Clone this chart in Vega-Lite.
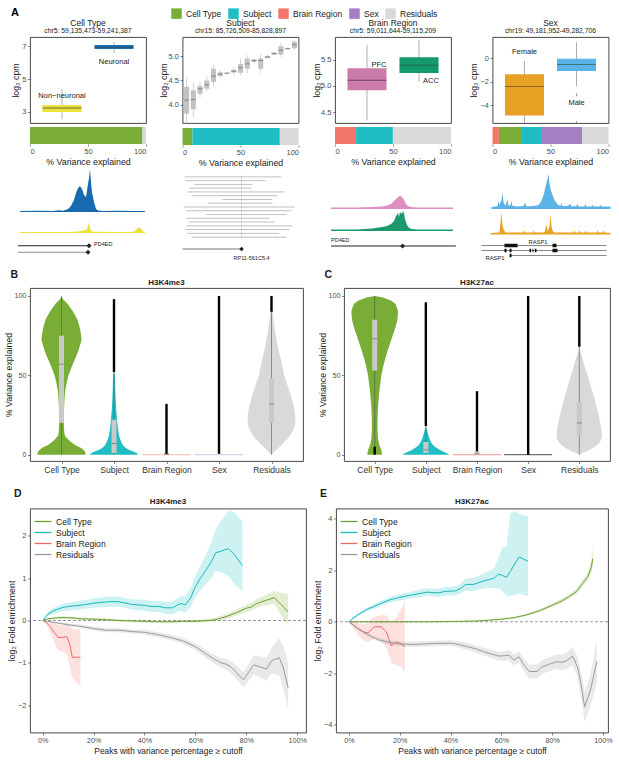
{
"$schema": "https://vega.github.io/schema/vega-lite/v6.json",
"padding": {"left": 3, "top": 8, "right": 0, "bottom": 0},
"config": {
 "font": "Liberation Sans",
 "view": {"stroke": "#333333", "strokeWidth": 0.9},
 "axis": {"grid": false, "domain": false, "ticks": true, "tickSize": 2.5, "tickColor": "#333333", "tickWidth": 0.6, "labelFontSize": 7.5, "labelColor": "#4d4d4d", "labelPadding": 1.5, "titleFontSize": 8.8, "titleFontWeight": "normal", "titleColor": "#1a1a1a", "titlePadding": 3},
 "title": {"fontSize": 8.5, "fontWeight": "normal", "color": "#1a1a1a", "subtitleFontSize": 6.8, "subtitleColor": "#1a1a1a", "subtitlePadding": 1, "offset": 2}
},
"datasets": {
 "vB": [
  {"cat":"Cell Type","v":100,"l":0,"r":0},{"cat":"Cell Type","v":98,"l":-4,"r":4},{"cat":"Cell Type","v":95,"l":-18,"r":18},{"cat":"Cell Type","v":90,"l":-35,"r":35},{"cat":"Cell Type","v":85,"l":-48,"r":48},{"cat":"Cell Type","v":80,"l":-55,"r":55},{"cat":"Cell Type","v":75,"l":-59,"r":59},{"cat":"Cell Type","v":72,"l":-60,"r":60},{"cat":"Cell Type","v":70,"l":-57,"r":57},{"cat":"Cell Type","v":65,"l":-50,"r":50},{"cat":"Cell Type","v":60,"l":-40,"r":40},{"cat":"Cell Type","v":55,"l":-30,"r":30},{"cat":"Cell Type","v":50,"l":-21,"r":21},{"cat":"Cell Type","v":45,"l":-15,"r":15},{"cat":"Cell Type","v":40,"l":-11,"r":11},{"cat":"Cell Type","v":35,"l":-9,"r":9},{"cat":"Cell Type","v":30,"l":-8,"r":8},{"cat":"Cell Type","v":25,"l":-7,"r":7},{"cat":"Cell Type","v":20,"l":-7,"r":7},{"cat":"Cell Type","v":15,"l":-8,"r":8},{"cat":"Cell Type","v":12,"l":-10,"r":10},{"cat":"Cell Type","v":10,"l":-18,"r":18},{"cat":"Cell Type","v":8,"l":-28,"r":28},{"cat":"Cell Type","v":6,"l":-42,"r":42},{"cat":"Cell Type","v":5,"l":-52,"r":52},{"cat":"Cell Type","v":4,"l":-60,"r":60},{"cat":"Cell Type","v":3,"l":-66,"r":66},{"cat":"Cell Type","v":2,"l":-70,"r":70},{"cat":"Cell Type","v":1,"l":-72,"r":72},{"cat":"Cell Type","v":0,"l":-72,"r":72},
  {"cat":"Subject","v":52,"l":0,"r":0},{"cat":"Subject","v":50,"l":-3,"r":3},{"cat":"Subject","v":45,"l":-3.5,"r":3.5},{"cat":"Subject","v":40,"l":-4,"r":4},{"cat":"Subject","v":35,"l":-5,"r":5},{"cat":"Subject","v":30,"l":-6,"r":6},{"cat":"Subject","v":25,"l":-8,"r":8},{"cat":"Subject","v":20,"l":-10,"r":10},{"cat":"Subject","v":15,"l":-13,"r":13},{"cat":"Subject","v":12,"l":-15,"r":15},{"cat":"Subject","v":10,"l":-18,"r":18},{"cat":"Subject","v":8,"l":-22,"r":22},{"cat":"Subject","v":6,"l":-27,"r":27},{"cat":"Subject","v":5,"l":-31,"r":31},{"cat":"Subject","v":4,"l":-37,"r":37},{"cat":"Subject","v":3,"l":-46,"r":46},{"cat":"Subject","v":2,"l":-58,"r":58},{"cat":"Subject","v":1,"l":-68,"r":68},{"cat":"Subject","v":0,"l":-72,"r":72},
  {"cat":"Residuals","v":100,"l":0,"r":0},{"cat":"Residuals","v":90,"l":-3,"r":3},{"cat":"Residuals","v":85,"l":-6,"r":6},{"cat":"Residuals","v":80,"l":-9,"r":9},{"cat":"Residuals","v":75,"l":-13,"r":13},{"cat":"Residuals","v":70,"l":-17,"r":17},{"cat":"Residuals","v":65,"l":-22,"r":22},{"cat":"Residuals","v":60,"l":-28,"r":28},{"cat":"Residuals","v":55,"l":-33,"r":33},{"cat":"Residuals","v":50,"l":-38,"r":38},{"cat":"Residuals","v":45,"l":-46,"r":46},{"cat":"Residuals","v":40,"l":-54,"r":54},{"cat":"Residuals","v":35,"l":-61,"r":61},{"cat":"Residuals","v":30,"l":-67,"r":67},{"cat":"Residuals","v":25,"l":-71,"r":71},{"cat":"Residuals","v":22,"l":-72,"r":72},{"cat":"Residuals","v":18,"l":-70,"r":70},{"cat":"Residuals","v":15,"l":-64,"r":64},{"cat":"Residuals","v":12,"l":-56,"r":56},{"cat":"Residuals","v":10,"l":-48,"r":48},{"cat":"Residuals","v":8,"l":-38,"r":38},{"cat":"Residuals","v":6,"l":-29,"r":29},{"cat":"Residuals","v":4,"l":-20,"r":20},{"cat":"Residuals","v":2,"l":-9,"r":9},{"cat":"Residuals","v":0,"l":0,"r":0}
 ],
 "vC": [
  {"cat":"Cell Type","v":100,"l":0,"r":0},{"cat":"Cell Type","v":99,"l":-25,"r":25},{"cat":"Cell Type","v":97,"l":-50,"r":50},{"cat":"Cell Type","v":95,"l":-62,"r":62},{"cat":"Cell Type","v":92,"l":-68,"r":68},{"cat":"Cell Type","v":90,"l":-70,"r":70},{"cat":"Cell Type","v":85,"l":-68,"r":68},{"cat":"Cell Type","v":80,"l":-62,"r":62},{"cat":"Cell Type","v":75,"l":-54,"r":54},{"cat":"Cell Type","v":70,"l":-46,"r":46},{"cat":"Cell Type","v":65,"l":-38,"r":38},{"cat":"Cell Type","v":60,"l":-31,"r":31},{"cat":"Cell Type","v":55,"l":-25,"r":25},{"cat":"Cell Type","v":50,"l":-20,"r":20},{"cat":"Cell Type","v":45,"l":-17,"r":17},{"cat":"Cell Type","v":40,"l":-14,"r":14},{"cat":"Cell Type","v":35,"l":-12,"r":12},{"cat":"Cell Type","v":30,"l":-10,"r":10},{"cat":"Cell Type","v":25,"l":-9,"r":9},{"cat":"Cell Type","v":20,"l":-8.5,"r":8.5},{"cat":"Cell Type","v":15,"l":-8.5,"r":8.5},{"cat":"Cell Type","v":10,"l":-10,"r":10},{"cat":"Cell Type","v":6,"l":-14,"r":14},{"cat":"Cell Type","v":4,"l":-18,"r":18},{"cat":"Cell Type","v":2,"l":-21,"r":21},{"cat":"Cell Type","v":0,"l":-22,"r":22},
  {"cat":"Subject","v":18,"l":0,"r":0},{"cat":"Subject","v":15,"l":-4,"r":4},{"cat":"Subject","v":12,"l":-8,"r":8},{"cat":"Subject","v":10,"l":-11,"r":11},{"cat":"Subject","v":8,"l":-15,"r":15},{"cat":"Subject","v":6,"l":-22,"r":22},{"cat":"Subject","v":5,"l":-27,"r":27},{"cat":"Subject","v":4,"l":-34,"r":34},{"cat":"Subject","v":3,"l":-42,"r":42},{"cat":"Subject","v":2,"l":-52,"r":52},{"cat":"Subject","v":1,"l":-62,"r":62},{"cat":"Subject","v":0,"l":-70,"r":70},
  {"cat":"Residuals","v":68,"l":0,"r":0},{"cat":"Residuals","v":65,"l":-3,"r":3},{"cat":"Residuals","v":60,"l":-11,"r":11},{"cat":"Residuals","v":55,"l":-17,"r":17},{"cat":"Residuals","v":50,"l":-25,"r":25},{"cat":"Residuals","v":45,"l":-32,"r":32},{"cat":"Residuals","v":40,"l":-39,"r":39},{"cat":"Residuals","v":35,"l":-46,"r":46},{"cat":"Residuals","v":30,"l":-52,"r":52},{"cat":"Residuals","v":25,"l":-58,"r":58},{"cat":"Residuals","v":20,"l":-63,"r":63},{"cat":"Residuals","v":15,"l":-67,"r":67},{"cat":"Residuals","v":11,"l":-68,"r":68},{"cat":"Residuals","v":8,"l":-62,"r":62},{"cat":"Residuals","v":6,"l":-53,"r":53},{"cat":"Residuals","v":4,"l":-40,"r":40},{"cat":"Residuals","v":2,"l":-22,"r":22},{"cat":"Residuals","v":1,"l":-10,"r":10},{"cat":"Residuals","v":0,"l":0,"r":0}
 ],
 "bB": [
  {"cat":"Cell Type","lo":0,"hi":100,"q1":20,"q3":75,"med":57},
  {"cat":"Subject","lo":0,"hi":52,"q1":1,"q3":22,"med":7,"o1":52,"o2":98},
  {"cat":"Brain Region","q1":0,"q3":1,"med":0.3,"o1":0.5,"o2":32,"flat":0},
  {"cat":"Sex","o1":0.5,"o2":100,"flat":0},
  {"cat":"Residuals","lo":0,"hi":90,"q1":20,"q3":48,"med":32,"o1":90,"o2":100}
 ],
 "bC": [
  {"cat":"Cell Type","lo":0,"hi":100,"q1":53,"q3":85,"med":73,"o1":0,"o2":5},
  {"cat":"Subject","lo":0,"hi":18,"q1":1,"q3":8,"med":3,"o1":18,"o2":96},
  {"cat":"Brain Region","q1":0,"q3":2,"med":0.5,"o1":2,"o2":40,"flat":0},
  {"cat":"Sex","o1":0,"o2":100,"flat":0},
  {"cat":"Residuals","lo":0,"hi":68,"q1":12,"q3":33,"med":20,"o1":68,"o2":100}
 ],
 "dD": [
  {"s":"Cell Type","x":0,"y":0,"lo":0,"hi":0},{"s":"Cell Type","x":2,"y":0.04,"lo":0.02,"hi":0.06},{"s":"Cell Type","x":5,"y":0.06,"lo":0.03,"hi":0.09},{"s":"Cell Type","x":8,"y":0.07,"lo":0.04,"hi":0.1},{"s":"Cell Type","x":12,"y":0.06,"lo":0.03,"hi":0.09},{"s":"Cell Type","x":15,"y":0.04,"lo":0.01,"hi":0.07},{"s":"Cell Type","x":20,"y":0.03,"lo":0,"hi":0.06},{"s":"Cell Type","x":25,"y":0.02,"lo":-0.01,"hi":0.05},{"s":"Cell Type","x":30,"y":0,"lo":-0.03,"hi":0.03},{"s":"Cell Type","x":35,"y":-0.01,"lo":-0.04,"hi":0.02},{"s":"Cell Type","x":40,"y":-0.02,"lo":-0.05,"hi":0.01},{"s":"Cell Type","x":45,"y":-0.03,"lo":-0.06,"hi":0},{"s":"Cell Type","x":50,"y":-0.03,"lo":-0.06,"hi":0},{"s":"Cell Type","x":55,"y":-0.02,"lo":-0.05,"hi":0.01},{"s":"Cell Type","x":60,"y":-0.02,"lo":-0.05,"hi":0.02},{"s":"Cell Type","x":65,"y":0,"lo":-0.04,"hi":0.04},{"s":"Cell Type","x":68,"y":0.02,"lo":-0.03,"hi":0.07},{"s":"Cell Type","x":72,"y":0.09,"lo":0.03,"hi":0.15},{"s":"Cell Type","x":76,"y":0.18,"lo":0.11,"hi":0.26},{"s":"Cell Type","x":80,"y":0.29,"lo":0.2,"hi":0.38},{"s":"Cell Type","x":82,"y":0.32,"lo":0.23,"hi":0.42},{"s":"Cell Type","x":84,"y":0.4,"lo":0.3,"hi":0.5},{"s":"Cell Type","x":87,"y":0.46,"lo":0.35,"hi":0.58},{"s":"Cell Type","x":89.5,"y":0.51,"lo":0.38,"hi":0.65},{"s":"Cell Type","x":91,"y":0.54,"lo":0.4,"hi":0.7},{"s":"Cell Type","x":93,"y":0.42,"lo":0.2,"hi":0.66},{"s":"Cell Type","x":95,"y":0.3,"lo":0,"hi":0.64},{"s":"Cell Type","x":96.5,"y":0.2,"lo":-0.12,"hi":0.62},
  {"s":"Subject","x":0,"y":0,"lo":0,"hi":0},{"s":"Subject","x":2,"y":0.15,"lo":0.1,"hi":0.2},{"s":"Subject","x":4,"y":0.22,"lo":0.15,"hi":0.29},{"s":"Subject","x":6,"y":0.27,"lo":0.19,"hi":0.35},{"s":"Subject","x":8,"y":0.31,"lo":0.22,"hi":0.4},{"s":"Subject","x":10,"y":0.33,"lo":0.24,"hi":0.42},{"s":"Subject","x":13,"y":0.35,"lo":0.25,"hi":0.45},{"s":"Subject","x":16,"y":0.37,"lo":0.27,"hi":0.48},{"s":"Subject","x":20,"y":0.41,"lo":0.3,"hi":0.52},{"s":"Subject","x":25,"y":0.44,"lo":0.32,"hi":0.56},{"s":"Subject","x":29,"y":0.45,"lo":0.33,"hi":0.57},{"s":"Subject","x":32,"y":0.42,"lo":0.3,"hi":0.54},{"s":"Subject","x":35,"y":0.38,"lo":0.26,"hi":0.5},{"s":"Subject","x":40,"y":0.36,"lo":0.23,"hi":0.49},{"s":"Subject","x":43,"y":0.33,"lo":0.2,"hi":0.46},{"s":"Subject","x":46,"y":0.33,"lo":0.2,"hi":0.47},{"s":"Subject","x":48,"y":0.3,"lo":0.16,"hi":0.44},{"s":"Subject","x":51,"y":0.3,"lo":0.15,"hi":0.45},{"s":"Subject","x":53,"y":0.37,"lo":0.21,"hi":0.53},{"s":"Subject","x":54.5,"y":0.4,"lo":0.23,"hi":0.58},{"s":"Subject","x":56,"y":0.37,"lo":0.18,"hi":0.57},{"s":"Subject","x":58,"y":0.52,"lo":0.3,"hi":0.75},{"s":"Subject","x":60,"y":0.8,"lo":0.55,"hi":1.05},{"s":"Subject","x":62,"y":1.0,"lo":0.72,"hi":1.3},{"s":"Subject","x":64,"y":1.18,"lo":0.85,"hi":1.55},{"s":"Subject","x":66,"y":1.36,"lo":0.98,"hi":1.8},{"s":"Subject","x":68,"y":1.6,"lo":1.18,"hi":2.15},{"s":"Subject","x":70,"y":1.64,"lo":1.15,"hi":2.35},{"s":"Subject","x":73,"y":1.7,"lo":1.05,"hi":2.6},{"s":"Subject","x":75.5,"y":1.55,"lo":0.85,"hi":2.55},{"s":"Subject","x":78.5,"y":1.3,"lo":0.7,"hi":2.35},
  {"s":"Brain Region","x":0,"y":0,"lo":0,"hi":0},{"s":"Brain Region","x":1.5,"y":-0.05,"lo":-0.1,"hi":0},{"s":"Brain Region","x":3,"y":-0.15,"lo":-0.3,"hi":0},{"s":"Brain Region","x":4.5,"y":-0.28,"lo":-0.5,"hi":-0.05},{"s":"Brain Region","x":6,"y":-0.4,"lo":-0.7,"hi":-0.1},{"s":"Brain Region","x":8,"y":-0.4,"lo":-0.75,"hi":-0.1},{"s":"Brain Region","x":9.5,"y":-0.38,"lo":-0.8,"hi":-0.05},{"s":"Brain Region","x":10.8,"y":-0.6,"lo":-1.15,"hi":-0.15},{"s":"Brain Region","x":11.6,"y":-0.87,"lo":-1.35,"hi":-0.2},{"s":"Brain Region","x":13,"y":-0.87,"lo":-1.45,"hi":-0.2},{"s":"Brain Region","x":14.8,"y":-0.87,"lo":-1.55,"hi":-0.22},
  {"s":"Residuals","x":0,"y":0,"lo":0,"hi":0},{"s":"Residuals","x":5,"y":-0.05,"lo":-0.07,"hi":-0.03},{"s":"Residuals","x":10,"y":-0.1,"lo":-0.13,"hi":-0.07},{"s":"Residuals","x":15,"y":-0.14,"lo":-0.18,"hi":-0.1},{"s":"Residuals","x":20,"y":-0.19,"lo":-0.24,"hi":-0.14},{"s":"Residuals","x":25,"y":-0.23,"lo":-0.28,"hi":-0.18},{"s":"Residuals","x":30,"y":-0.23,"lo":-0.28,"hi":-0.18},{"s":"Residuals","x":35,"y":-0.26,"lo":-0.31,"hi":-0.21},{"s":"Residuals","x":40,"y":-0.28,"lo":-0.34,"hi":-0.22},{"s":"Residuals","x":45,"y":-0.33,"lo":-0.39,"hi":-0.27},{"s":"Residuals","x":50,"y":-0.4,"lo":-0.46,"hi":-0.33},{"s":"Residuals","x":55,"y":-0.48,"lo":-0.55,"hi":-0.41},{"s":"Residuals","x":60,"y":-0.62,"lo":-0.7,"hi":-0.54},{"s":"Residuals","x":64,"y":-0.78,"lo":-0.87,"hi":-0.69},{"s":"Residuals","x":67,"y":-0.9,"lo":-1.0,"hi":-0.8},{"s":"Residuals","x":70,"y":-1.0,"lo":-1.12,"hi":-0.88},{"s":"Residuals","x":72,"y":-1.03,"lo":-1.16,"hi":-0.9},{"s":"Residuals","x":74,"y":-1.1,"lo":-1.24,"hi":-0.96},{"s":"Residuals","x":76,"y":-1.22,"lo":-1.38,"hi":-1.06},{"s":"Residuals","x":78,"y":-1.35,"lo":-1.52,"hi":-1.18},{"s":"Residuals","x":79,"y":-1.4,"lo":-1.58,"hi":-1.22},{"s":"Residuals","x":81,"y":-1.22,"lo":-1.42,"hi":-1.02},{"s":"Residuals","x":83,"y":-1.05,"lo":-1.28,"hi":-0.82},{"s":"Residuals","x":85.5,"y":-1.1,"lo":-1.35,"hi":-0.85},{"s":"Residuals","x":88,"y":-1.15,"lo":-1.42,"hi":-0.88},{"s":"Residuals","x":90,"y":-0.95,"lo":-1.25,"hi":-0.65},{"s":"Residuals","x":93,"y":-0.88,"lo":-1.3,"hi":-0.42},{"s":"Residuals","x":94.5,"y":-1.1,"lo":-1.6,"hi":-0.6},{"s":"Residuals","x":96.5,"y":-1.6,"lo":-2.1,"hi":-1.0}
 ],
 "dE": [
  {"s":"Cell Type","x":0,"y":0,"lo":0,"hi":0},{"s":"Cell Type","x":10,"y":0,"lo":-0.02,"hi":0.02},{"s":"Cell Type","x":20,"y":0,"lo":-0.02,"hi":0.02},{"s":"Cell Type","x":30,"y":0,"lo":-0.02,"hi":0.02},{"s":"Cell Type","x":40,"y":0.01,"lo":-0.01,"hi":0.03},{"s":"Cell Type","x":45,"y":0.02,"lo":0,"hi":0.04},{"s":"Cell Type","x":50,"y":0.03,"lo":0.01,"hi":0.05},{"s":"Cell Type","x":55,"y":0.06,"lo":0.03,"hi":0.09},{"s":"Cell Type","x":60,"y":0.1,"lo":0.07,"hi":0.13},{"s":"Cell Type","x":65,"y":0.16,"lo":0.12,"hi":0.2},{"s":"Cell Type","x":70,"y":0.27,"lo":0.22,"hi":0.32},{"s":"Cell Type","x":75,"y":0.43,"lo":0.37,"hi":0.49},{"s":"Cell Type","x":80,"y":0.64,"lo":0.57,"hi":0.71},{"s":"Cell Type","x":84,"y":0.82,"lo":0.74,"hi":0.9},{"s":"Cell Type","x":87,"y":1.0,"lo":0.91,"hi":1.09},{"s":"Cell Type","x":89.5,"y":1.17,"lo":1.07,"hi":1.27},{"s":"Cell Type","x":92,"y":1.49,"lo":1.37,"hi":1.61},{"s":"Cell Type","x":94,"y":1.75,"lo":1.6,"hi":1.9},{"s":"Cell Type","x":95.4,"y":2.1,"lo":1.9,"hi":2.35},{"s":"Cell Type","x":96,"y":2.45,"lo":2.15,"hi":2.9},
  {"s":"Subject","x":0,"y":0,"lo":0,"hi":0},{"s":"Subject","x":2,"y":0.17,"lo":0.12,"hi":0.22},{"s":"Subject","x":4,"y":0.3,"lo":0.24,"hi":0.36},{"s":"Subject","x":6,"y":0.42,"lo":0.35,"hi":0.49},{"s":"Subject","x":7.5,"y":0.5,"lo":0.42,"hi":0.58},{"s":"Subject","x":10,"y":0.6,"lo":0.51,"hi":0.69},{"s":"Subject","x":12,"y":0.69,"lo":0.59,"hi":0.79},{"s":"Subject","x":16,"y":0.85,"lo":0.74,"hi":0.96},{"s":"Subject","x":20,"y":0.95,"lo":0.83,"hi":1.07},{"s":"Subject","x":24,"y":1.03,"lo":0.9,"hi":1.16},{"s":"Subject","x":28,"y":1.1,"lo":0.95,"hi":1.25},{"s":"Subject","x":31,"y":1.15,"lo":1.0,"hi":1.3},{"s":"Subject","x":35,"y":1.12,"lo":0.96,"hi":1.28},{"s":"Subject","x":38,"y":1.18,"lo":1.01,"hi":1.35},{"s":"Subject","x":42,"y":1.2,"lo":1.02,"hi":1.38},{"s":"Subject","x":44,"y":1.3,"lo":1.1,"hi":1.5},{"s":"Subject","x":46,"y":1.45,"lo":1.22,"hi":1.68},{"s":"Subject","x":49,"y":1.45,"lo":1.2,"hi":1.7},{"s":"Subject","x":52,"y":1.55,"lo":1.27,"hi":1.83},{"s":"Subject","x":55,"y":1.64,"lo":1.32,"hi":1.96},{"s":"Subject","x":57,"y":1.68,"lo":1.3,"hi":2.06},{"s":"Subject","x":59,"y":1.85,"lo":1.3,"hi":2.5},{"s":"Subject","x":60.5,"y":1.8,"lo":1.2,"hi":2.9},{"s":"Subject","x":62,"y":1.72,"lo":1.0,"hi":2.9},{"s":"Subject","x":63.5,"y":1.95,"lo":1.0,"hi":4.2},{"s":"Subject","x":65,"y":2.2,"lo":1.05,"hi":4.3},{"s":"Subject","x":67,"y":2.52,"lo":1.1,"hi":4.2},{"s":"Subject","x":68.5,"y":2.45,"lo":1.05,"hi":4.15},{"s":"Subject","x":70.5,"y":2.35,"lo":1.0,"hi":4.1},
  {"s":"Brain Region","x":0,"y":0,"lo":0,"hi":0},{"s":"Brain Region","x":2,"y":-0.15,"lo":-0.3,"hi":0},{"s":"Brain Region","x":4,"y":-0.3,"lo":-0.55,"hi":-0.05},{"s":"Brain Region","x":5.5,"y":-0.39,"lo":-0.7,"hi":-0.08},{"s":"Brain Region","x":7.5,"y":-0.43,"lo":-0.8,"hi":-0.05},{"s":"Brain Region","x":10,"y":-0.2,"lo":-0.65,"hi":0.2},{"s":"Brain Region","x":12.7,"y":-0.19,"lo":-0.7,"hi":0.25},{"s":"Brain Region","x":14.7,"y":-0.39,"lo":-1.0,"hi":0.25},{"s":"Brain Region","x":16.7,"y":-0.93,"lo":-1.6,"hi":0},{"s":"Brain Region","x":18.9,"y":-0.78,"lo":-1.7,"hi":0.2},{"s":"Brain Region","x":20.5,"y":-0.85,"lo":-1.75,"hi":0.5},{"s":"Brain Region","x":22,"y":-0.97,"lo":-1.95,"hi":0.8},
  {"s":"Residuals","x":0,"y":0,"lo":0,"hi":0},{"s":"Residuals","x":3,"y":-0.22,"lo":-0.27,"hi":-0.17},{"s":"Residuals","x":6,"y":-0.42,"lo":-0.48,"hi":-0.36},{"s":"Residuals","x":9,"y":-0.58,"lo":-0.65,"hi":-0.51},{"s":"Residuals","x":12,"y":-0.71,"lo":-0.79,"hi":-0.63},{"s":"Residuals","x":16,"y":-0.8,"lo":-0.89,"hi":-0.71},{"s":"Residuals","x":20,"y":-0.86,"lo":-0.95,"hi":-0.77},{"s":"Residuals","x":25,"y":-0.88,"lo":-0.98,"hi":-0.78},{"s":"Residuals","x":30,"y":-0.86,"lo":-0.96,"hi":-0.76},{"s":"Residuals","x":35,"y":-0.84,"lo":-0.94,"hi":-0.74},{"s":"Residuals","x":40,"y":-0.83,"lo":-0.94,"hi":-0.72},{"s":"Residuals","x":43,"y":-0.88,"lo":-1.0,"hi":-0.76},{"s":"Residuals","x":46,"y":-0.95,"lo":-1.08,"hi":-0.82},{"s":"Residuals","x":50,"y":-1.05,"lo":-1.19,"hi":-0.91},{"s":"Residuals","x":53,"y":-1.16,"lo":-1.31,"hi":-1.01},{"s":"Residuals","x":56,"y":-1.25,"lo":-1.41,"hi":-1.09},{"s":"Residuals","x":59,"y":-1.33,"lo":-1.5,"hi":-1.16},{"s":"Residuals","x":61,"y":-1.32,"lo":-1.5,"hi":-1.14},{"s":"Residuals","x":63,"y":-1.3,"lo":-1.5,"hi":-1.1},{"s":"Residuals","x":65,"y":-1.49,"lo":-1.7,"hi":-1.28},{"s":"Residuals","x":67,"y":-1.36,"lo":-1.58,"hi":-1.14},{"s":"Residuals","x":69,"y":-1.7,"lo":-1.95,"hi":-1.45},{"s":"Residuals","x":71,"y":-1.93,"lo":-2.2,"hi":-1.66},{"s":"Residuals","x":74,"y":-1.93,"lo":-2.2,"hi":-1.66},{"s":"Residuals","x":76,"y":-1.75,"lo":-2.02,"hi":-1.48},{"s":"Residuals","x":79,"y":-1.65,"lo":-1.92,"hi":-1.38},{"s":"Residuals","x":81.6,"y":-1.55,"lo":-1.83,"hi":-1.27},{"s":"Residuals","x":84,"y":-1.58,"lo":-1.88,"hi":-1.28},{"s":"Residuals","x":86,"y":-1.5,"lo":-1.82,"hi":-1.18},{"s":"Residuals","x":88,"y":-1.33,"lo":-1.68,"hi":-0.98},{"s":"Residuals","x":90,"y":-1.75,"lo":-2.15,"hi":-1.35},{"s":"Residuals","x":91.5,"y":-2.5,"lo":-3.0,"hi":-2.0},{"s":"Residuals","x":92.8,"y":-3.3,"lo":-3.9,"hi":-2.7},{"s":"Residuals","x":95,"y":-2.7,"lo":-3.3,"hi":-2.1},{"s":"Residuals","x":97.6,"y":-1.55,"lo":-2.4,"hi":-0.7}
 ]
},
"vconcat": [
 {"vconcat": [
  {"width": 1, "height": 1, "view": {"stroke": null},
   "data": {"values": [{"comp":"Cell Type"},{"comp":"Subject"},{"comp":"Brain Region"},{"comp":"Sex"},{"comp":"Residuals"}]},
   "mark": {"type":"square","size":0,"opacity":1},
   "encoding": {"color": {"field":"comp","type":"nominal","scale":{"domain":["Cell Type","Subject","Brain Region","Sex","Residuals"],"range":["#79ad36","#1fbec2","#f4776c","#a37fc3","#d9d9d9"]},
    "legend":{"orient":"none","legendX":-19,"legendY":0,"direction":"horizontal","title":"A","titleOrient":"left","titleFontSize":11,"titleFontWeight":"bold","titleColor":"#000000","titlePadding":152,"symbolType":"square","symbolSize":110,"symbolStrokeWidth":0,"symbolOpacity":1,"labelFontSize":8.5,"labelColor":"#1a1a1a","labelOffset":4,"columnPadding":6,"padding":0}}}},
  {"hconcat": [
   {"vconcat": [
    {"vconcat": [
     {"width": 116, "height": 86,
      "title": {"text": "Cell Type", "subtitle": "chr5: 59,135,473-59,241,387"},
      "data": {"values": [{"g":"Non−neuronal","lo":2.57,"q1":3.0,"med":3.24,"q3":3.42,"hi":4.4,"ly":3.97},{"g":"Neuronal","lo":6.58,"q1":6.82,"med":6.94,"q3":7.06,"hi":7.24,"ly":6.03}]},
      "encoding": {"x": {"field":"g","type":"nominal","sort":null,"scale":{"paddingInner":0.25,"paddingOuter":0.24},"axis":null}},
      "layer": [
       {"mark": {"type":"rule","color":"#8c8c8c","strokeWidth":0.7}, "encoding": {"y": {"field":"lo","type":"quantitative","scale":{"domain":[2.33,7.55],"nice":false,"zero":false},"axis":{"values":[3,5,7],"title":"log₂ cpm","minExtent":9,"maxExtent":9,"titlePadding":0.5}}, "y2": {"field":"hi"}}},
       {"mark": {"type":"bar"}, "encoding": {"y": {"field":"q1","type":"quantitative"}, "y2": {"field":"q3"}, "color": {"field":"g","type":"nominal","scale":{"domain":["Non−neuronal","Neuronal"],"range":["#efe23c","#1670b2"]},"legend":null}}},
       {"mark": {"type":"tick","orient":"horizontal","color":"#333333","thickness":0.8,"size":39}, "encoding": {"y": {"field":"med","type":"quantitative"}}},
       {"mark": {"type":"text","fontSize":7.5,"color":"#1a1a1a"}, "encoding": {"y": {"field":"ly","type":"quantitative"}, "text": {"field":"g"}}}
      ]},
     {"width": 116, "height": 17, "view": {"stroke": null},
      "data": {"values": [{"r":"v","comp":"Cell Type","k":2,"pct":97},{"r":"v","comp":"Residuals","k":5,"pct":3}]},
      "mark": {"type":"bar"},
      "encoding": {
       "y": {"field":"r","type":"nominal","axis":null,"scale":{"paddingInner":0,"paddingOuter":0}},
       "x": {"field":"pct","type":"quantitative","stack":"zero","scale":{"domain":[0,100],"nice":false},"axis":{"values":[0,50,100],"title":"% Variance explained","tickSize":2,"titlePadding":2}},
       "order": {"field":"k","type":"quantitative"},
       "color": {"field":"comp","type":"nominal","scale":{"domain":["Cell Type","Subject","Brain Region","Sex","Residuals"],"range":["#79ad36","#1fbec2","#f4776c","#a37fc3","#d9d9d9"]},"legend":null}
      }}
    ], "spacing": 3, "resolve": {"scale": {"color": "independent"}}},
    {"vconcat": [
     {"width": 116, "height": 43, "view": {"stroke": null},
      "data": {"values": [{"p":-8.6,"s":1},{"p":6.9,"s":1.2},{"p":19.8,"s":1},{"p":25,"s":1.8},{"p":28.4,"s":1.2},{"p":32.8,"s":3},{"p":35.3,"s":6},{"p":37.9,"s":12},{"p":39.7,"s":19},{"p":41.4,"s":24},{"p":43.1,"s":26},{"p":44.8,"s":23},{"p":46.6,"s":17},{"p":48.3,"s":15},{"p":50,"s":28},{"p":50.9,"s":34},{"p":51.7,"s":43},{"p":52.6,"s":30},{"p":53.4,"s":20},{"p":55.2,"s":10},{"p":56.9,"s":3},{"p":58.6,"s":1.5},{"p":62.9,"s":1},{"p":75.9,"s":1.2},{"p":88.8,"s":1},{"p":99.1,"s":1}]},
      "mark": {"type":"area","color":"#1769b0"},
      "encoding": {"x": {"field":"p","type":"quantitative","scale":{"domain":[0,100],"nice":false,"zero":false},"axis":null}, "y": {"field":"s","type":"quantitative","scale":{"domain":[0,43],"nice":false},"axis":null}}},
     {"width": 116, "height": 13, "view": {"stroke": null},
      "data": {"values": [{"p":-8.6,"s":1},{"p":32.8,"s":1},{"p":41.4,"s":1.5},{"p":46.6,"s":2.5},{"p":49.1,"s":4},{"p":50,"s":7},{"p":50.9,"s":11},{"p":51.7,"s":5},{"p":52.6,"s":2},{"p":55.2,"s":1.2},{"p":84.5,"s":1},{"p":89.7,"s":1.5},{"p":92.2,"s":4},{"p":94,"s":6},{"p":95.7,"s":4},{"p":97.4,"s":1.5},{"p":99.1,"s":1}]},
      "mark": {"type":"area","color":"#ece13a"},
      "encoding": {"x": {"field":"p","type":"quantitative","scale":{"domain":[0,100],"nice":false,"zero":false},"axis":null}, "y": {"field":"s","type":"quantitative","scale":{"domain":[0,13],"nice":false},"axis":null}}},
     {"width": 116, "height": 16, "view": {"stroke": null},
      "data": {"values": [{"row":"g1","a":-10.3,"b":50.9,"lab":"PD4ED"},{"row":"g2","a":-10.3,"b":50,"lab":""}]},
      "encoding": {"y": {"field":"row","type":"nominal","sort":null,"scale":{"type":"point","padding":0.71},"axis":null}},
      "layer": [
       {"mark": {"type":"rule","strokeWidth":1.1}, "encoding": {"x": {"field":"a","type":"quantitative","scale":{"domain":[0,100],"nice":false,"zero":false},"axis":null}, "x2": {"field":"b"}, "color": {"field":"row","type":"nominal","scale":{"domain":["g1","g2"],"range":["#222222","#8c8c8c"]},"legend":null}}},
       {"mark": {"type":"point","shape":"diamond","filled":true,"size":24,"opacity":1,"color":"#222222"}, "encoding": {"x": {"field":"b","type":"quantitative"}}},
       {"mark": {"type":"text","align":"left","dx":5,"dy":-2,"fontSize":5.5,"color":"#222222"}, "encoding": {"x": {"field":"b","type":"quantitative"}, "text": {"field":"lab"}}}
      ]}
    ], "spacing": 8}
   ], "spacing": 3, "resolve": {"scale": {"color": "independent"}}},
   {"hconcat": [
    {"vconcat": [
     {"vconcat": [
      {"width": 116, "height": 86,
       "title": {"text": "Subject", "subtitle": "chr15: 85,726,509-85,828,897"},
       "data": {"values": [
        {"g":"s01","lo":3.62,"q1":3.82,"med":4.10,"q3":4.37,"hi":4.56},{"g":"s02","lo":3.75,"q1":3.91,"med":4.11,"q3":4.30,"hi":4.45},{"g":"s03","lo":4.15,"q1":4.23,"med":4.33,"q3":4.39,"hi":4.48},{"g":"s04","lo":4.28,"q1":4.33,"med":4.41,"q3":4.50,"hi":4.58},{"g":"s05","lo":4.38,"q1":4.47,"med":4.59,"q3":4.74,"hi":4.82},{"g":"s06","lo":4.55,"q1":4.59,"med":4.63,"q3":4.67,"hi":4.72},{"g":"s07","lo":4.63,"q1":4.64,"med":4.65,"q3":4.66,"hi":4.67},{"g":"s08","lo":4.6,"q1":4.66,"med":4.69,"q3":4.72,"hi":4.78},{"g":"s09","lo":4.6,"q1":4.66,"med":4.76,"q3":4.84,"hi":4.95},{"g":"s10","lo":4.65,"q1":4.74,"med":4.84,"q3":4.95,"hi":5.02},{"g":"s11","lo":4.85,"q1":4.88,"med":4.91,"q3":4.93,"hi":4.96},{"g":"s12","lo":4.65,"q1":4.74,"med":4.91,"q3":4.95,"hi":5.05},{"g":"s13","lo":4.94,"q1":4.96,"med":4.98,"q3":5.0,"hi":5.03},{"g":"s14","lo":5.02,"q1":5.03,"med":5.05,"q3":5.07,"hi":5.08},{"g":"s15","lo":4.98,"q1":5.03,"med":5.12,"q3":5.20,"hi":5.27},{"g":"s16","lo":5.13,"q1":5.14,"med":5.15,"q3":5.16,"hi":5.17},{"g":"s17","lo":5.12,"q1":5.16,"med":5.23,"q3":5.29,"hi":5.33}]},
       "encoding": {"x": {"field":"g","type":"nominal","sort":null,"scale":{"paddingInner":0.25,"paddingOuter":0.23},"axis":null}},
       "layer": [
        {"mark": {"type":"rule","color":"#b5b5b5","strokeWidth":0.6}, "encoding": {"y": {"field":"lo","type":"quantitative","scale":{"domain":[3.63,5.39],"nice":false,"zero":false},"axis":{"values":[4,4.5,5],"format":".1f","title":"log₂ cpm","minExtent":13,"maxExtent":13,"titlePadding":1}}, "y2": {"field":"hi"}}},
        {"mark": {"type":"bar","color":"#c2c2c2"}, "encoding": {"y": {"field":"q1","type":"quantitative"}, "y2": {"field":"q3"}}},
        {"mark": {"type":"tick","orient":"horizontal","color":"#555555","thickness":0.8,"size":5}, "encoding": {"y": {"field":"med","type":"quantitative"}}}
       ]},
      {"width": 116, "height": 17, "view": {"stroke": null},
       "data": {"values": [{"r":"v","comp":"Cell Type","k":2,"pct":8.6},{"r":"v","comp":"Subject","k":3,"pct":75.3},{"r":"v","comp":"Residuals","k":5,"pct":16.1}]},
       "mark": {"type":"bar"},
       "encoding": {
        "y": {"field":"r","type":"nominal","axis":null,"scale":{"paddingInner":0,"paddingOuter":0}},
        "x": {"field":"pct","type":"quantitative","stack":"zero","scale":{"domain":[0,100],"nice":false},"axis":{"values":[0,50,100],"title":"% Variance explained","tickSize":2,"titlePadding":2}},
        "order": {"field":"k","type":"quantitative"},
        "color": {"field":"comp","type":"nominal","scale":{"domain":["Cell Type","Subject","Brain Region","Sex","Residuals"],"range":["#79ad36","#1fbec2","#f4776c","#a37fc3","#d9d9d9"]},"legend":null}
       }}
     ], "spacing": 3, "resolve": {"scale": {"color": "independent"}}},
     {"vconcat": [
      {"width": 116, "height": 64, "view": {"stroke": null},
       "data": {"values": [
        {"t":"r01","a":1.7,"b":85.3,"pk":50.9},{"t":"r02","a":2.6,"b":71.6,"pk":50.9},{"t":"r03","a":10.3,"b":60.3,"pk":50.9},{"t":"r04","a":6.0,"b":59.5,"pk":50.9},{"t":"r05","a":4.3,"b":87.9,"pk":50.9},{"t":"r06","a":7.8,"b":81.9,"pk":50.9},{"t":"r07","a":34.5,"b":77.6,"pk":50.9},{"t":"r08","a":21.6,"b":77.6,"pk":50.9},{"t":"r09","a":0.9,"b":96.6,"pk":50.9},{"t":"r10","a":3.4,"b":94.0,"pk":50.9},{"t":"r11","a":20.7,"b":89.7,"pk":50.9},{"t":"r12","a":3.4,"b":75.0,"pk":50.9},{"t":"r13","a":5.2,"b":79.3,"pk":50.9},{"t":"r14","a":3.4,"b":94.8,"pk":50.9},{"t":"r15","a":2.6,"b":92.2,"pk":50.9},{"t":"r16","a":4.3,"b":83.6,"pk":50.9},{"t":"r17","a":7.8,"b":89.7,"pk":50.9}]},
       "encoding": {"y": {"field":"t","type":"nominal","sort":null,"scale":{"type":"point","padding":0.5},"axis":null}},
       "layer": [
        {"mark": {"type":"rule","color":"#b0b0b0","strokeWidth":0.8}, "encoding": {"x": {"field":"a","type":"quantitative","scale":{"domain":[0,100],"nice":false,"zero":false},"axis":null}, "x2": {"field":"b"}}},
        {"mark": {"type":"tick","orient":"vertical","color":"#b0b0b0","size":3,"thickness":0.8}, "encoding": {"x": {"field":"pk","type":"quantitative"}}}
       ]},
      {"width": 116, "height": 10, "view": {"stroke": null},
       "data": {"values": [{"row":"g1","a":0,"b":50.9,"lab":"RP11-561C5.4"}]},
       "encoding": {"y": {"field":"row","type":"nominal","scale":{"type":"point","padding":0.5},"axis":null}},
       "layer": [
        {"mark": {"type":"rule","strokeWidth":0.9,"color":"#666666"}, "encoding": {"x": {"field":"a","type":"quantitative","scale":{"domain":[0,100],"nice":false,"zero":false},"axis":null}, "x2": {"field":"b"}}},
        {"mark": {"type":"point","shape":"diamond","filled":true,"size":20,"opacity":1,"color":"#222222"}, "encoding": {"x": {"field":"b","type":"quantitative"}}},
        {"mark": {"type":"text","align":"center","dx":10,"dy":9,"fontSize":5.5,"color":"#222222"}, "encoding": {"x": {"field":"b","type":"quantitative"}, "text": {"field":"lab"}}}
       ]}
     ], "spacing": 5}
    ], "spacing": 8, "resolve": {"scale": {"color": "independent"}}},
    {"vconcat": [
     {"vconcat": [
      {"width": 116, "height": 86,
       "title": {"text": "Brain Region", "subtitle": "chr5: 59,011,644-59,115,209"},
       "data": {"values": [{"g":"PFC","lo":4.35,"q1":4.92,"med":5.11,"q3":5.34,"hi":5.79,"ly":5.4},{"g":"ACC","lo":5.08,"q1":5.25,"med":5.40,"q3":5.55,"hi":5.88,"ly":5.1}]},
       "encoding": {"x": {"field":"g","type":"nominal","sort":null,"scale":{"paddingInner":0.25,"paddingOuter":0.24},"axis":null}},
       "layer": [
        {"mark": {"type":"rule","color":"#8c8c8c","strokeWidth":0.7}, "encoding": {"y": {"field":"lo","type":"quantitative","scale":{"domain":[4.29,5.94],"nice":false,"zero":false},"axis":{"values":[4.5,5,5.5],"format":".1f","title":"log₂ cpm","minExtent":13,"maxExtent":13,"titlePadding":1}}, "y2": {"field":"hi"}}},
        {"mark": {"type":"bar"}, "encoding": {"y": {"field":"q1","type":"quantitative"}, "y2": {"field":"q3"}, "color": {"field":"g","type":"nominal","scale":{"domain":["PFC","ACC"],"range":["#cd7bab","#13996c"]},"legend":null}}},
        {"mark": {"type":"tick","orient":"horizontal","color":"#333333","thickness":0.8,"size":39}, "encoding": {"y": {"field":"med","type":"quantitative"}}},
        {"mark": {"type":"text","fontSize":7.5,"color":"#1a1a1a","dx":12}, "encoding": {"y": {"field":"ly","type":"quantitative"}, "text": {"field":"g"}}}
       ]},
      {"width": 116, "height": 17, "view": {"stroke": null},
       "data": {"values": [{"r":"v","comp":"Brain Region","k":1,"pct":18.2},{"r":"v","comp":"Subject","k":3,"pct":31.7},{"r":"v","comp":"Residuals","k":5,"pct":50.1}]},
       "mark": {"type":"bar"},
       "encoding": {
        "y": {"field":"r","type":"nominal","axis":null,"scale":{"paddingInner":0,"paddingOuter":0}},
        "x": {"field":"pct","type":"quantitative","stack":"zero","scale":{"domain":[0,100],"nice":false},"axis":{"values":[0,50,100],"title":"% Variance explained","tickSize":2,"titlePadding":2}},
        "order": {"field":"k","type":"quantitative"},
        "color": {"field":"comp","type":"nominal","scale":{"domain":["Cell Type","Subject","Brain Region","Sex","Residuals"],"range":["#79ad36","#1fbec2","#f4776c","#a37fc3","#d9d9d9"]},"legend":null}
       }}
     ], "spacing": 3, "resolve": {"scale": {"color": "independent"}}},
     {"vconcat": [
      {"width": 116, "height": 14, "view": {"stroke": null},
       "data": {"values": [{"p":-3.4,"s":1.5},{"p":19,"s":1.5},{"p":31.9,"s":2},{"p":40.5,"s":2.5},{"p":44.8,"s":3.5},{"p":48.3,"s":5},{"p":50.9,"s":8},{"p":52.6,"s":10},{"p":54.3,"s":12},{"p":56,"s":13},{"p":57.8,"s":12},{"p":59.5,"s":9},{"p":61.2,"s":5},{"p":62.9,"s":3},{"p":65.5,"s":2},{"p":70.7,"s":1.5},{"p":101.7,"s":1.5}]},
       "mark": {"type":"area","color":"#dc8fc0"},
       "encoding": {"x": {"field":"p","type":"quantitative","scale":{"domain":[0,100],"nice":false,"zero":false},"axis":null}, "y": {"field":"s","type":"quantitative","scale":{"domain":[0,14],"nice":false},"axis":null}}},
      {"width": 116, "height": 20, "view": {"stroke": null},
       "data": {"values": [{"p":-3.4,"s":1.5},{"p":19,"s":1.5},{"p":31.9,"s":2.5},{"p":40.5,"s":4},{"p":44.8,"s":5},{"p":48.3,"s":7},{"p":50.9,"s":10},{"p":52.6,"s":15},{"p":54.3,"s":18},{"p":55.2,"s":14},{"p":56,"s":19},{"p":57.8,"s":17},{"p":58.6,"s":20},{"p":59.5,"s":18},{"p":60.3,"s":12},{"p":62.1,"s":6},{"p":63.8,"s":3},{"p":66.4,"s":2},{"p":70.7,"s":1.5},{"p":101.7,"s":1.5}]},
       "mark": {"type":"area","color":"#1d9a6c"},
       "encoding": {"x": {"field":"p","type":"quantitative","scale":{"domain":[0,100],"nice":false,"zero":false},"axis":null}, "y": {"field":"s","type":"quantitative","scale":{"domain":[0,20],"nice":false},"axis":null}}},
      {"width": 116, "height": 26, "view": {"stroke": null},
       "data": {"values": [{"row":"g1","a":-3.4,"b":104.3,"m":58.3,"lab":"PD4ED"}]},
       "encoding": {"y": {"field":"row","type":"nominal","scale":{"type":"point","padding":0.5},"axis":null}},
       "layer": [
        {"mark": {"type":"rule","strokeWidth":1,"color":"#222222"}, "encoding": {"x": {"field":"a","type":"quantitative","scale":{"domain":[0,100],"nice":false,"zero":false},"axis":null}, "x2": {"field":"b"}}},
        {"mark": {"type":"point","shape":"diamond","filled":true,"size":24,"opacity":1,"color":"#222222"}, "encoding": {"x": {"field":"m","type":"quantitative"}}},
        {"mark": {"type":"text","align":"left","dy":-6,"fontSize":5.5,"color":"#222222"}, "encoding": {"x": {"field":"a","type":"quantitative"}, "text": {"field":"lab"}}}
       ]}
     ], "spacing": 2}
    ], "spacing": 29, "resolve": {"scale": {"color": "independent"}}},
    {"vconcat": [
     {"vconcat": [
      {"width": 116, "height": 86,
       "title": {"text": "Sex", "subtitle": "chr19: 49,181,952-49,282,706"},
       "data": {"values": [{"g":"Female","lo":-5.53,"q1":-4.9,"med":-2.42,"q3":-1.38,"hi":-0.25,"ly":0.5},{"g":"Male","lo":-2.42,"q1":-1.1,"med":-0.54,"q3":-0.06,"hi":1.35,"ly":-3.83}]},
       "encoding": {"x": {"field":"g","type":"nominal","sort":null,"scale":{"paddingInner":0.25,"paddingOuter":0.24},"axis":null}},
       "layer": [
        {"mark": {"type":"rule","color":"#8c8c8c","strokeWidth":0.7}, "encoding": {"y": {"field":"lo","type":"quantitative","scale":{"domain":[-5.53,1.79],"nice":false,"zero":false},"axis":{"values":[-4,-2,0],"title":"log₂ cpm","minExtent":13,"maxExtent":13,"titlePadding":1}}, "y2": {"field":"hi"}}},
        {"mark": {"type":"bar"}, "encoding": {"y": {"field":"q1","type":"quantitative"}, "y2": {"field":"q3"}, "color": {"field":"g","type":"nominal","scale":{"domain":["Female","Male"],"range":["#e8a125","#58b3e6"]},"legend":null}}},
        {"mark": {"type":"tick","orient":"horizontal","color":"#333333","thickness":0.8,"size":39}, "encoding": {"y": {"field":"med","type":"quantitative"}}},
        {"mark": {"type":"text","fontSize":7.5,"color":"#1a1a1a"}, "encoding": {"y": {"field":"ly","type":"quantitative"}, "text": {"field":"g"}}},
        {"data": {"values": [{"g":"Male","o":-3.05},{"g":"Male","o":-3.2},{"g":"Male","o":-5.45}]}, "mark": {"type":"circle","size":2,"color":"#777777","opacity":1}, "encoding": {"y": {"field":"o","type":"quantitative"}}}
       ]},
      {"width": 116, "height": 17, "view": {"stroke": null},
       "data": {"values": [{"r":"v","comp":"Brain Region","k":1,"pct":5.5},{"r":"v","comp":"Cell Type","k":2,"pct":19.1},{"r":"v","comp":"Subject","k":3,"pct":18},{"r":"v","comp":"Sex","k":4,"pct":34.8},{"r":"v","comp":"Residuals","k":5,"pct":22.6}]},
       "mark": {"type":"bar"},
       "encoding": {
        "y": {"field":"r","type":"nominal","axis":null,"scale":{"paddingInner":0,"paddingOuter":0}},
        "x": {"field":"pct","type":"quantitative","stack":"zero","scale":{"domain":[0,100],"nice":false},"axis":{"values":[0,50,100],"title":"% Variance explained","tickSize":2,"titlePadding":2}},
        "order": {"field":"k","type":"quantitative"},
        "color": {"field":"comp","type":"nominal","scale":{"domain":["Cell Type","Subject","Brain Region","Sex","Residuals"],"range":["#79ad36","#1fbec2","#f4776c","#a37fc3","#d9d9d9"]},"legend":null}
       }}
     ], "spacing": 3, "resolve": {"scale": {"color": "independent"}}},
     {"vconcat": [
      {"width": 116, "height": 35, "view": {"stroke": null},
       "data": {"values": [{"p":-0.9,"s":2},{"p":2.6,"s":2.5},{"p":4.3,"s":3},{"p":5.2,"s":8},{"p":6.0,"s":4},{"p":7.8,"s":9},{"p":8.6,"s":17},{"p":9.5,"s":7},{"p":11.2,"s":3},{"p":12.9,"s":10},{"p":13.8,"s":3},{"p":15.5,"s":4},{"p":16.4,"s":8},{"p":17.2,"s":3},{"p":21.6,"s":2.5},{"p":26.7,"s":3},{"p":28.4,"s":6},{"p":29.3,"s":2.5},{"p":35.3,"s":3},{"p":39.7,"s":4},{"p":42.2,"s":8},{"p":44.0,"s":14},{"p":45.7,"s":22},{"p":47.4,"s":30},{"p":48.3,"s":35},{"p":49.1,"s":26},{"p":50,"s":20},{"p":51.7,"s":14},{"p":53.4,"s":9},{"p":55.2,"s":6},{"p":56.9,"s":4},{"p":58.6,"s":3},{"p":59.5,"s":6},{"p":60.3,"s":3},{"p":64.7,"s":3},{"p":67.2,"s":5},{"p":68.1,"s":2.5},{"p":72.4,"s":3},{"p":73.3,"s":5},{"p":74.1,"s":2.5},{"p":79.3,"s":2.5},{"p":80.2,"s":5},{"p":81,"s":2.5},{"p":85.3,"s":2.5},{"p":86.2,"s":4},{"p":87.1,"s":2.5},{"p":92.2,"s":2.5},{"p":93.1,"s":4},{"p":94,"s":2.5},{"p":101.7,"s":2.5}]},
       "mark": {"type":"area","color":"#5ab3e6"},
       "encoding": {"x": {"field":"p","type":"quantitative","scale":{"domain":[0,100],"nice":false,"zero":false},"axis":null}, "y": {"field":"s","type":"quantitative","scale":{"domain":[0,35],"nice":false},"axis":null}}},
      {"width": 116, "height": 22, "view": {"stroke": null},
       "data": {"values": [{"p":-1.7,"s":1.5},{"p":6.0,"s":2},{"p":6.9,"s":12},{"p":7.8,"s":22},{"p":8.6,"s":10},{"p":9.5,"s":5},{"p":11.2,"s":2},{"p":26.7,"s":2},{"p":27.6,"s":4},{"p":28.4,"s":2},{"p":34.5,"s":2},{"p":35.3,"s":4},{"p":36.2,"s":2},{"p":44.8,"s":2},{"p":45.7,"s":6},{"p":46.6,"s":10},{"p":47.4,"s":4},{"p":48.3,"s":5},{"p":49.1,"s":8},{"p":50,"s":20},{"p":50.9,"s":8},{"p":51.7,"s":4},{"p":53.4,"s":2},{"p":69.8,"s":2},{"p":70.7,"s":4},{"p":71.6,"s":2},{"p":74.1,"s":2},{"p":75,"s":4},{"p":75.9,"s":2},{"p":79.3,"s":2},{"p":80.2,"s":4},{"p":81,"s":2},{"p":89.7,"s":2},{"p":90.5,"s":4},{"p":91.4,"s":2},{"p":94.8,"s":2},{"p":95.7,"s":4},{"p":96.6,"s":2},{"p":101.7,"s":1.5}]},
       "mark": {"type":"area","color":"#e9a224"},
       "encoding": {"x": {"field":"p","type":"quantitative","scale":{"domain":[0,100],"nice":false,"zero":false},"axis":null}, "y": {"field":"s","type":"quantitative","scale":{"domain":[0,22],"nice":false},"axis":null}}},
      {"width": 116, "height": 15, "view": {"stroke": null},
       "data": {"values": [{"row":"r1","a":-9.5,"b":98.3},{"row":"r2","a":-9.5,"b":98.3},{"row":"r3","a":15.5,"b":98.3}]},
       "encoding": {"y": {"field":"row","type":"nominal","sort":null,"scale":{"type":"point","padding":0.5},"axis":null}},
       "layer": [
        {"mark": {"type":"rule","strokeWidth":0.7,"color":"#555555"}, "encoding": {"x": {"field":"a","type":"quantitative","scale":{"domain":[0,100],"nice":false,"zero":false},"axis":null}, "x2": {"field":"b"}}},
        {"data": {"values": [{"row":"r1","a":10.3,"b":21.6},{"row":"r1","a":51.7,"b":55.2},{"row":"r2","a":10.3,"b":12.1},{"row":"r2","a":14.7,"b":16.4},{"row":"r2","a":31.9,"b":33.2},{"row":"r2","a":34.5,"b":35.3},{"row":"r2","a":36.6,"b":37.9},{"row":"r2","a":51.7,"b":56.0},{"row":"r3","a":14.7,"b":16.4}]},
         "mark": {"type":"rule","strokeWidth":3.5,"color":"#111111"}, "encoding": {"x": {"field":"a","type":"quantitative"}, "x2": {"field":"b"}}},
        {"data": {"values": [{"row":"r1","a":31,"lab":"RASP1"}]},
         "mark": {"type":"text","align":"left","dy":-4,"fontSize":5.8,"color":"#222222"}, "encoding": {"x": {"field":"a","type":"quantitative"}, "text": {"field":"lab"}}},
        {"data": {"values": [{"row":"r3","a":-6,"lab":"RASP1"}]},
         "mark": {"type":"text","align":"left","dy":2.5,"fontSize":5.8,"color":"#222222"}, "encoding": {"x": {"field":"a","type":"quantitative"}, "text": {"field":"lab"}}}
       ]}
     ], "spacing": 3.5}
    ], "spacing": 8, "resolve": {"scale": {"color": "independent"}}}
   ], "spacing": 11.5, "resolve": {"scale": {"color": "independent"}}}
  ], "spacing": 11.5, "resolve": {"scale": {"color": "independent"}}}
 ], "spacing": -1, "resolve": {"scale": {"color": "independent"}}},
 {"vconcat": [
  {"hconcat": [
   {"vconcat": [
    {"width": 273, "height": 173,
     "title": {"text": "H3K4me3", "fontWeight": "bold", "fontSize": 8, "offset": 1},
     "resolve": {"scale": {"x": "independent"}},
     "layer": [
      {"data": {"name": "vB"}, "transform": [{"filter": "datum.cat === 'Cell Type'"}], "mark": {"type":"area","orient":"horizontal","color":"#79ad36"},
       "encoding": {"y": {"field":"v","type":"quantitative","scale":{"domain":[-4,105],"nice":false,"zero":false},"axis":{"values":[0,50,100],"title":"% Variance explained","labelFontSize":7.2,"minExtent":16,"maxExtent":16,"titlePadding":1}}, "x": {"field":"l","type":"quantitative","scale":{"domain":[-94.5,724.5],"nice":false,"zero":false},"axis":null}, "x2": {"field":"r"}}},
      {"data": {"name": "vB"}, "transform": [{"filter": "datum.cat === 'Subject'"}], "mark": {"type":"area","orient":"horizontal","color":"#1fbec2"},
       "encoding": {"y": {"field":"v","type":"quantitative","scale":{"domain":[-4,105],"nice":false,"zero":false}}, "x": {"field":"l","type":"quantitative","scale":{"domain":[-252,567],"nice":false,"zero":false},"axis":null}, "x2": {"field":"r"}}},
      {"data": {"name": "vB"}, "transform": [{"filter": "datum.cat === 'Residuals'"}], "mark": {"type":"area","orient":"horizontal","color":"#d9d9d9"},
       "encoding": {"y": {"field":"v","type":"quantitative","scale":{"domain":[-4,105],"nice":false,"zero":false}}, "x": {"field":"l","type":"quantitative","scale":{"domain":[-724.5,94.5],"nice":false,"zero":false},"axis":null}, "x2": {"field":"r"}}},
      {"data": {"name": "bB"},
       "encoding": {"x": {"field":"cat","type":"nominal","sort":null,"scale":{"type":"point","domain":["Cell Type","Subject","Brain Region","Sex","Residuals"],"padding":0.6},"axis":{"title":null,"labelAngle":0,"labelFontSize":8.6,"labelColor":"#333333","labelPadding":2}}},
       "layer": [
        {"mark": {"type":"tick","orient":"horizontal","size":48,"thickness":1.2}, "encoding": {"y": {"field":"flat","type":"quantitative","scale":{"domain":[-4,105],"nice":false,"zero":false}}, "color": {"field":"cat","type":"nominal","scale":{"domain":["Brain Region","Sex"],"range":["#f6b0aa","#cdbbe0"]},"legend":null}}},
        {"mark": {"type":"rule","color":"#555555","strokeWidth":0.6}, "encoding": {"y": {"field":"lo","type":"quantitative"}, "y2": {"field":"hi"}}},
        {"mark": {"type":"bar","size":5,"color":"#c9c9c9"}, "encoding": {"y": {"field":"q1","type":"quantitative"}, "y2": {"field":"q3"}}},
        {"mark": {"type":"tick","orient":"horizontal","size":5,"thickness":0.8,"color":"#555555"}, "encoding": {"y": {"field":"med","type":"quantitative"}}},
        {"mark": {"type":"rule","color":"#000000","strokeWidth":2.4}, "encoding": {"y": {"field":"o1","type":"quantitative"}, "y2": {"field":"o2"}}}
       ]}
     ]}
   ], "title": {"text": "B", "anchor": "start", "frame": "bounds", "fontSize": 10.5, "fontWeight": "bold", "offset": -2, "dx": 7}, "resolve": {"scale": {"color": "independent"}}},
   {"vconcat": [
    {"width": 266, "height": 173,
     "title": {"text": "H3K27ac", "fontWeight": "bold", "fontSize": 8, "offset": 1},
     "resolve": {"scale": {"x": "independent"}},
     "layer": [
      {"data": {"name": "vC"}, "transform": [{"filter": "datum.cat === 'Cell Type'"}], "mark": {"type":"area","orient":"horizontal","color":"#79ad36"},
       "encoding": {"y": {"field":"v","type":"quantitative","scale":{"domain":[-4,105],"nice":false,"zero":false},"axis":{"values":[0,50,100],"title":"% Variance explained","labelFontSize":7.2,"minExtent":16,"maxExtent":16,"titlePadding":1}}, "x": {"field":"l","type":"quantitative","scale":{"domain":[-92.1,705.9],"nice":false,"zero":false},"axis":null}, "x2": {"field":"r"}}},
      {"data": {"name": "vC"}, "transform": [{"filter": "datum.cat === 'Subject'"}], "mark": {"type":"area","orient":"horizontal","color":"#1fbec2"},
       "encoding": {"y": {"field":"v","type":"quantitative","scale":{"domain":[-4,105],"nice":false,"zero":false}}, "x": {"field":"l","type":"quantitative","scale":{"domain":[-245.55,552.45],"nice":false,"zero":false},"axis":null}, "x2": {"field":"r"}}},
      {"data": {"name": "vC"}, "transform": [{"filter": "datum.cat === 'Residuals'"}], "mark": {"type":"area","orient":"horizontal","color":"#d9d9d9"},
       "encoding": {"y": {"field":"v","type":"quantitative","scale":{"domain":[-4,105],"nice":false,"zero":false}}, "x": {"field":"l","type":"quantitative","scale":{"domain":[-705.9,92.1],"nice":false,"zero":false},"axis":null}, "x2": {"field":"r"}}},
      {"data": {"name": "bC"},
       "encoding": {"x": {"field":"cat","type":"nominal","sort":null,"scale":{"type":"point","domain":["Cell Type","Subject","Brain Region","Sex","Residuals"],"padding":0.6},"axis":{"title":null,"labelAngle":0,"labelFontSize":8.6,"labelColor":"#333333","labelPadding":2}}},
       "layer": [
        {"mark": {"type":"tick","orient":"horizontal","size":48,"thickness":1.2}, "encoding": {"y": {"field":"flat","type":"quantitative","scale":{"domain":[-4,105],"nice":false,"zero":false}}, "color": {"field":"cat","type":"nominal","scale":{"domain":["Brain Region","Sex"],"range":["#f08a80","#333333"]},"legend":null}}},
        {"mark": {"type":"rule","color":"#555555","strokeWidth":0.6}, "encoding": {"y": {"field":"lo","type":"quantitative"}, "y2": {"field":"hi"}}},
        {"mark": {"type":"bar","size":5,"color":"#c9c9c9"}, "encoding": {"y": {"field":"q1","type":"quantitative"}, "y2": {"field":"q3"}}},
        {"mark": {"type":"tick","orient":"horizontal","size":5,"thickness":0.8,"color":"#555555"}, "encoding": {"y": {"field":"med","type":"quantitative"}}},
        {"mark": {"type":"rule","color":"#000000","strokeWidth":2.4}, "encoding": {"y": {"field":"o1","type":"quantitative"}, "y2": {"field":"o2"}}}
       ]}
     ]}
   ], "title": {"text": "C", "anchor": "start", "frame": "bounds", "fontSize": 10.5, "fontWeight": "bold", "offset": -2, "dx": 7}, "resolve": {"scale": {"color": "independent"}}}
  ], "spacing": 13, "resolve": {"scale": {"color": "independent"}}},
  {"hconcat": [
   {"vconcat": [
    {"width": 276, "height": 224,
     "title": {"text": "H3K4me3", "fontWeight": "bold", "fontSize": 8, "offset": 3},
     "layer": [
      {"data": {"name": "dD"}, "mark": {"type":"area","opacity":0.22},
       "encoding": {"x": {"field":"x","type":"quantitative","scale":{"domain":[-5,103.5],"nice":false,"zero":false},"axis":{"values":[0,20,40,60,80,100],"labelExpr":"datum.value + '%'","title":"Peaks with variance percentage ≥ cutoff","titleFontSize":8.4,"labelFontSize":7.2}},
        "y": {"field":"lo","type":"quantitative","scale":{"domain":[-2.65,2.65],"nice":false,"zero":false},"axis":{"values":[-2,-1,0,1,2],"title":"log₂ Fold enrichment","minExtent":13,"maxExtent":13,"titlePadding":0.5}}, "y2": {"field":"hi"},
        "fill": {"field":"s","type":"nominal","scale":{"domain":["Cell Type","Subject","Brain Region","Residuals","band"],"range":["#79ad36","#1fbec2","#f4776c","#9b9b9b","#ffffff"]},"legend":null}}},
      {"data": {"values": [{}]}, "mark": {"type":"rule","strokeDash":[3,2],"color":"#555555","strokeWidth":0.6}, "encoding": {"y": {"datum": 0}}},
      {"data": {"name": "dD"}, "mark": {"type":"line","strokeWidth":1},
       "encoding": {"x": {"field":"x","type":"quantitative"}, "y": {"field":"y","type":"quantitative"},
        "stroke": {"field":"s","type":"nominal","scale":{"domain":["Cell Type","Subject","Brain Region","Residuals"],"range":["#6aa22e","#17b9bd","#ee6a5f","#9b9b9b"]},
         "legend":{"orient":"top-left","title":null,"symbolType":"M-1.6,0H1.6","symbolStrokeWidth":1.3,"symbolSize":110,"labelFontSize":8.6,"labelColor":"#1a1a1a","offset":7,"padding":0,"rowPadding":0,"labelOffset":7}}}}
     ]}
   ], "title": {"text": "D", "anchor": "start", "frame": "bounds", "fontSize": 10.5, "fontWeight": "bold", "offset": -2, "dx": 7}, "resolve": {"scale": {"fill": "independent", "stroke": "independent"}}},
   {"vconcat": [
    {"width": 272, "height": 224,
     "title": {"text": "H3K27ac", "fontWeight": "bold", "fontSize": 8, "offset": 3},
     "layer": [
      {"data": {"name": "dE"}, "mark": {"type":"area","opacity":0.22},
       "encoding": {"x": {"field":"x","type":"quantitative","scale":{"domain":[-5.1,102],"nice":false,"zero":false},"axis":{"values":[0,20,40,60,80,100],"labelExpr":"datum.value + '%'","title":"Peaks with variance percentage ≥ cutoff","titleFontSize":8.4,"labelFontSize":7.2}},
        "y": {"field":"lo","type":"quantitative","scale":{"domain":[-4.3,4.4],"nice":false,"zero":false},"axis":{"values":[-4,-2,0,2,4],"title":"log₂ Fold enrichment","minExtent":13,"maxExtent":13,"titlePadding":0.5}}, "y2": {"field":"hi"},
        "fill": {"field":"s","type":"nominal","scale":{"domain":["Cell Type","Subject","Brain Region","Residuals","band"],"range":["#79ad36","#1fbec2","#f4776c","#9b9b9b","#ffffff"]},"legend":null}}},
      {"data": {"values": [{}]}, "mark": {"type":"rule","strokeDash":[3,2],"color":"#555555","strokeWidth":0.6}, "encoding": {"y": {"datum": 0}}},
      {"data": {"name": "dE"}, "mark": {"type":"line","strokeWidth":1},
       "encoding": {"x": {"field":"x","type":"quantitative"}, "y": {"field":"y","type":"quantitative"},
        "stroke": {"field":"s","type":"nominal","scale":{"domain":["Cell Type","Subject","Brain Region","Residuals"],"range":["#6aa22e","#17b9bd","#ee6a5f","#9b9b9b"]},
         "legend":{"orient":"top-left","title":null,"symbolType":"M-1.6,0H1.6","symbolStrokeWidth":1.3,"symbolSize":110,"labelFontSize":8.6,"labelColor":"#1a1a1a","offset":7,"padding":0,"rowPadding":0,"labelOffset":7}}}}
     ]}
   ], "title": {"text": "E", "anchor": "start", "frame": "bounds", "fontSize": 10.5, "fontWeight": "bold", "offset": -2, "dx": 7}, "resolve": {"scale": {"fill": "independent", "stroke": "independent"}}}
  ], "spacing": 6, "resolve": {"scale": {"fill": "independent", "stroke": "independent"}}}
 ], "spacing": 13.5, "resolve": {"scale": {"color": "independent", "fill": "independent", "stroke": "independent"}}}
],
"spacing": 8, "resolve": {"scale": {"color": "independent", "fill": "independent", "stroke": "independent"}}
}
